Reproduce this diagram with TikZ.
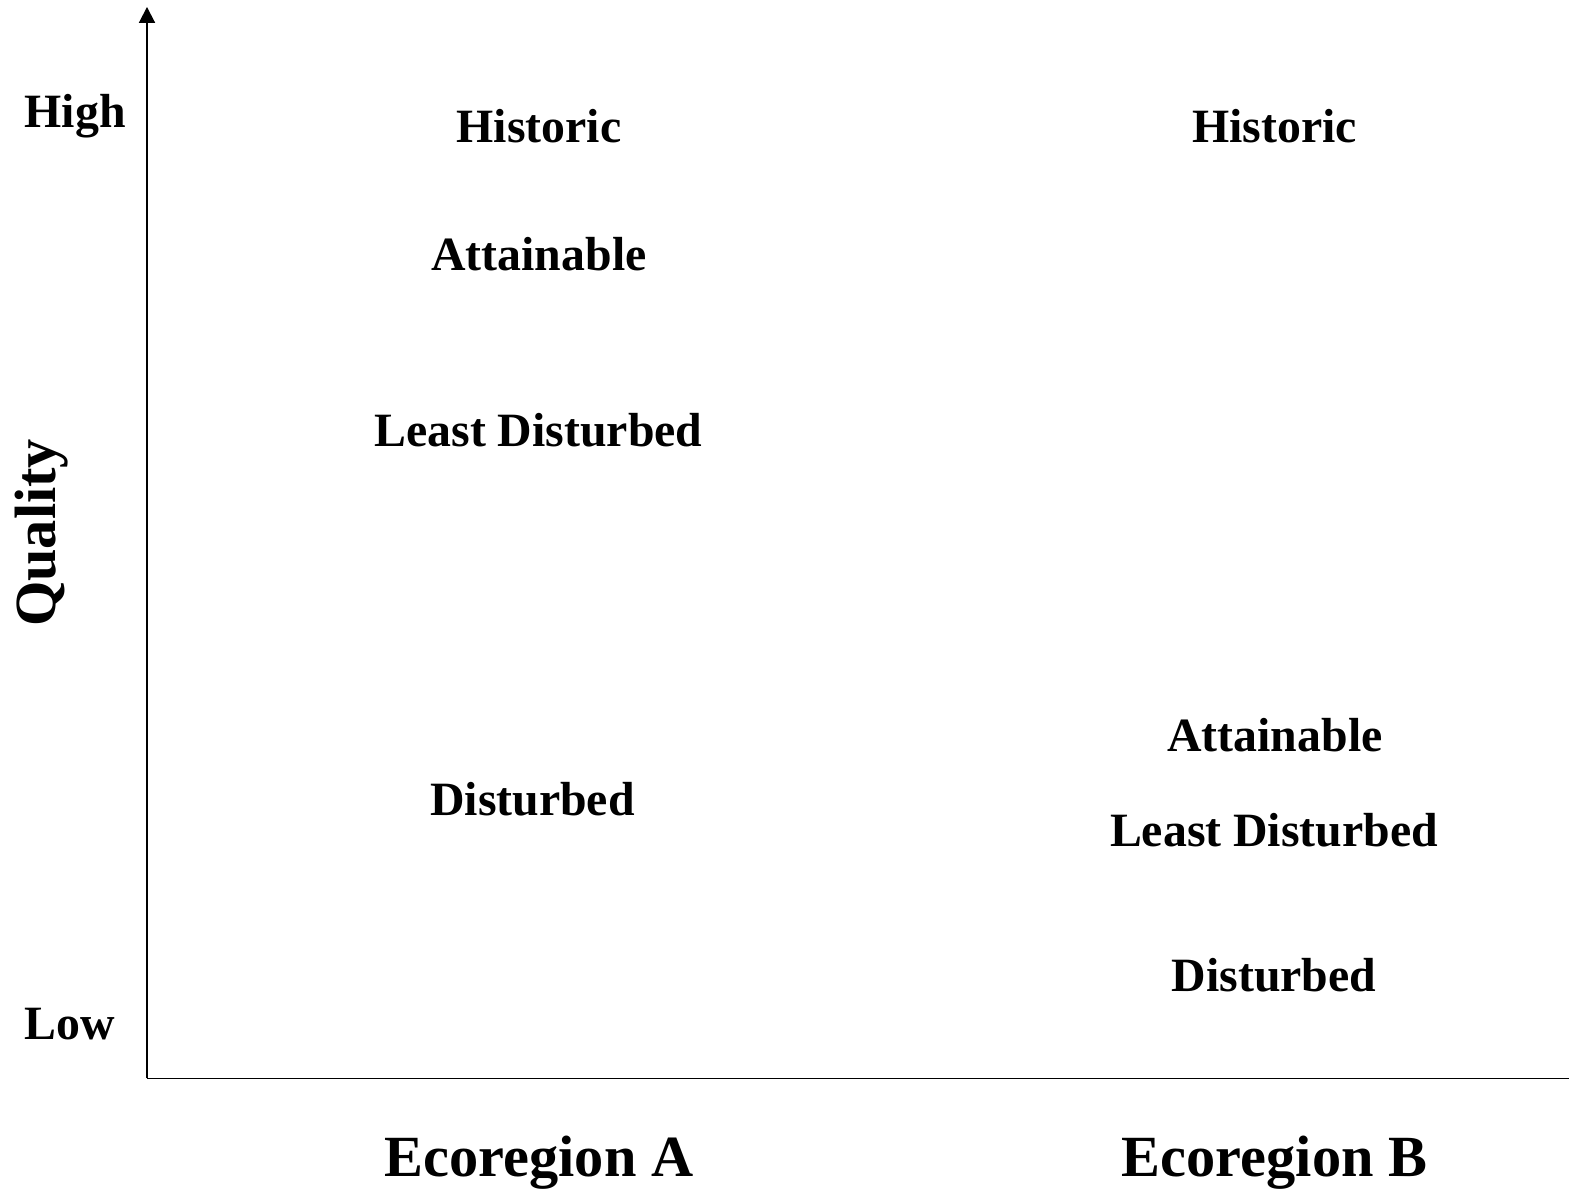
\documentclass[tikz,border=0pt]{standalone}
\usepackage{fontspec}
\setmainfont{Liberation Serif}
\usetikzlibrary{arrows.meta}

\tikzset{
  lbl/.style={font=\fontsize{13.6}{16}\selectfont\bfseries,anchor=base,inner sep=0pt},
  ttl/.style={font=\fontsize{16.6}{20}\selectfont\bfseries,anchor=base,inner sep=0pt}
}

\begin{document}
\begin{tikzpicture}[>={Triangle[length=4.5pt,width=4.5pt]}]
  \useasboundingbox (0,0) rectangle (15.69,11.90);
  % axes
  \coordinate (origin) at (1.47,1.115);
  \coordinate (ytop) at (1.47,11.83);
  \coordinate (xend) at (15.69,1.115);
  \draw[line width=0.55pt,->] (origin) -- (ytop);
  \draw[line width=0.55pt] (origin) -- (xend);
  % axis labels
  \node[lbl,anchor=base west] (high) at (0.24,10.62) {High};
  \node[lbl,anchor=base west] (low) at (0.24,1.50) {Low};
  \node[ttl,rotate=90] (quality) at (0.56,6.57) {Quality};
  \node[ttl] (eco-a) at (5.39,0.13) {Ecoregion A};
  \node[ttl] (eco-b) at (12.745,0.13) {Ecoregion B};
  % left: ecoregion A
  \node[lbl] (hist-a) at (5.39,10.47) {Historic};
  \node[lbl] (attain-a) at (5.39,9.19) {Attainable};
  \node[lbl] (least-a) at (5.385,7.43) {Least Disturbed};
  \node[lbl] (dist-a) at (5.325,3.74) {Disturbed};
  % right: ecoregion B
  \node[lbl] (hist-b) at (12.745,10.47) {Historic};
  \node[lbl] (attain-b) at (12.75,4.38) {Attainable};
  \node[lbl] (least-b) at (12.74,3.43) {Least Disturbed};
  \node[lbl] (dist-b) at (12.74,1.98) {Disturbed};
\end{tikzpicture}
\end{document}
